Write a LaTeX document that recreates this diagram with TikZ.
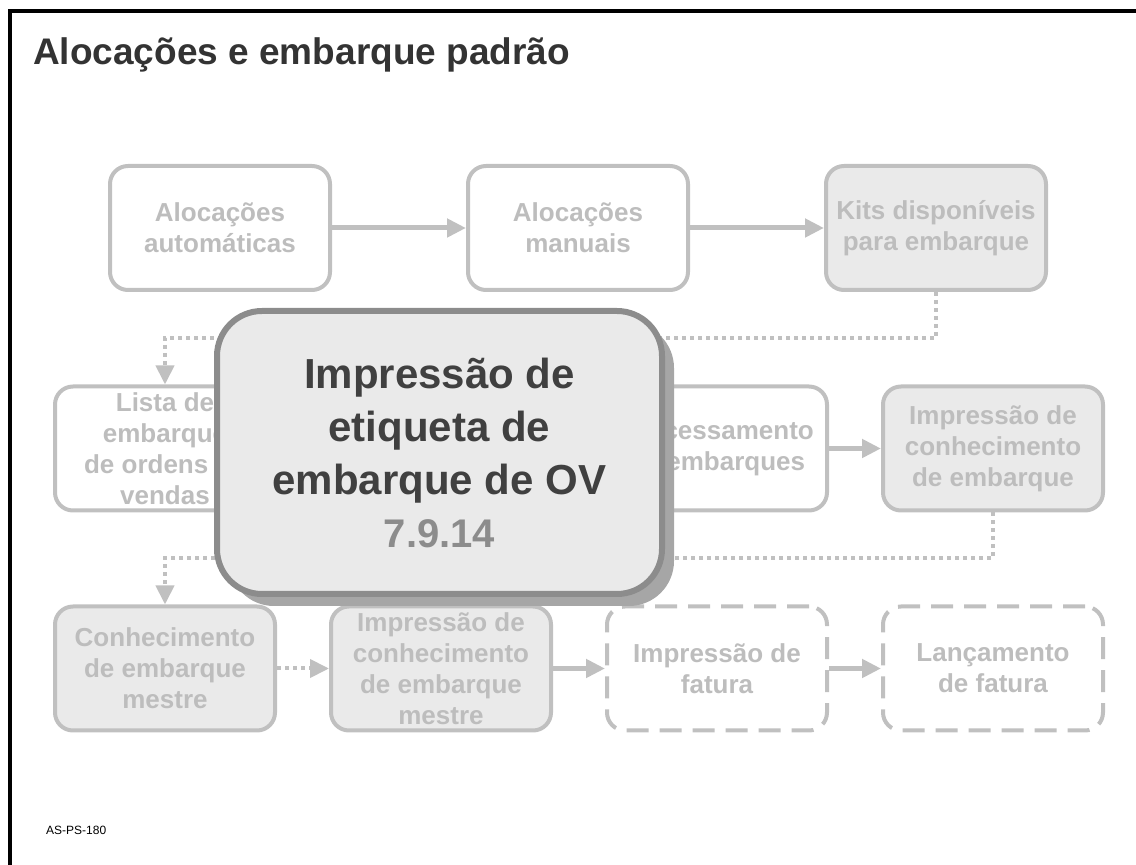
\documentclass[tikz,border=0pt]{standalone}
\usepackage{fontspec}
\setmainfont{Liberation Sans}
\usetikzlibrary{arrows.meta,positioning,shadows}
\definecolor{Edge}{HTML}{C0C0C0}
\definecolor{Faded}{HTML}{BDBDBD}
\definecolor{Pale}{HTML}{EAEAEA}
\definecolor{Frame}{HTML}{8C8C8C}
\definecolor{Shade}{HTML}{A6A6A6}
\definecolor{Ink}{HTML}{404040}
\definecolor{Heading}{HTML}{333333}
\tikzset{
  stepbox/.style={rectangle, rounded corners=18pt, draw=Edge, line width=4pt,
    fill=white, text=Faded, font=\bfseries\fontsize{26}{31}\selectfont,
    minimum width=220pt, minimum height=124pt, align=center, inner sep=2pt},
  donebox/.style={stepbox, fill=Pale},
  laterbox/.style={stepbox, dash pattern=on 22pt off 11pt},
  focus/.style={rectangle, rounded corners=45pt, draw=Frame, line width=6pt,
    fill=Pale, text=Ink, font=\bfseries\fontsize{42}{53}\selectfont,
    minimum width=445pt, minimum height=283pt, align=center,
    general shadow={fill=Shade, shadow xshift=12pt, shadow yshift=-12pt}},
  arrow/.style={-{Triangle[length=19pt,width=18pt]}, line width=5pt, draw=Edge},
  dotarrow/.style={arrow, line width=4pt, dash pattern=on 4pt off 4pt}
}

\begin{document}
\begin{tikzpicture}[x=1pt, y=1pt, node distance=92pt and 52pt]
  \useasboundingbox (0,0) rectangle (1136,865);
  \draw[line width=4pt] (9.5,0) -- (9.5,854) -- (1136,854);
  \node[anchor=base west, inner sep=0pt, text=Heading,
    font=\bfseries\fontsize{37}{44}\selectfont] (title) at (33,800) {Alocações e embarque padrão};
  \node[anchor=base west, inner sep=0pt, font=\fontsize{12}{14}\selectfont] (code) at (46,30) {AS-PS-180};

  % first row
  \node[stepbox] (autoalloc) at (220,637) {Alocações\\automáticas};
  \node[stepbox, right=134pt of autoalloc] (manualalloc) {Alocações\\manuais};
  \node[donebox, right=134pt of manualalloc] (kits) {Kits disponíveis\\para embarque};

  % second row
  \node[stepbox] (picklist) at (165,416.5) {Lista de\\embarque\\de ordens de\\vendas};
  \node[stepbox, right=328pt of picklist] (process) {Processamento\\de embarques};
  \node[donebox, right=of process] (bolprint) {Impressão de\\conhecimento\\de embarque};

  % third row
  \node[donebox, below=of picklist] (masterbol) {Conhecimento\\de embarque\\mestre};
  \node[donebox, right=of masterbol] (masterprint) {Impressão de\\conhecimento\\de embarque\\mestre};
  \node[laterbox, right=of masterprint] (invprint) {Impressão de\\fatura};
  \node[laterbox, right=of invprint] (invpost) {Lançamento\\de fatura};

  \draw[arrow] (autoalloc) -- (manualalloc);
  \draw[arrow] (manualalloc) -- (kits);
  \draw[dotarrow] (kits.south) -- ++(0,-46) -| (picklist.north);
  \draw[arrow] (process) -- (bolprint);
  \draw[dotarrow] (bolprint.south) -- ++(0,-46) -| (masterbol.north);
  \draw[dotarrow] (masterbol) -- (masterprint);
  \draw[arrow] (masterprint) -- (invprint);
  \draw[arrow] (invprint) -- (invpost);

  % highlighted step
  \node[focus] (labelprint) at (439.5,412.5) {Impressão de\\etiqueta de\\embarque de OV\\{\color{Frame}\fontsize{40}{53}\selectfont 7.9.14}};
\end{tikzpicture}
\end{document}
